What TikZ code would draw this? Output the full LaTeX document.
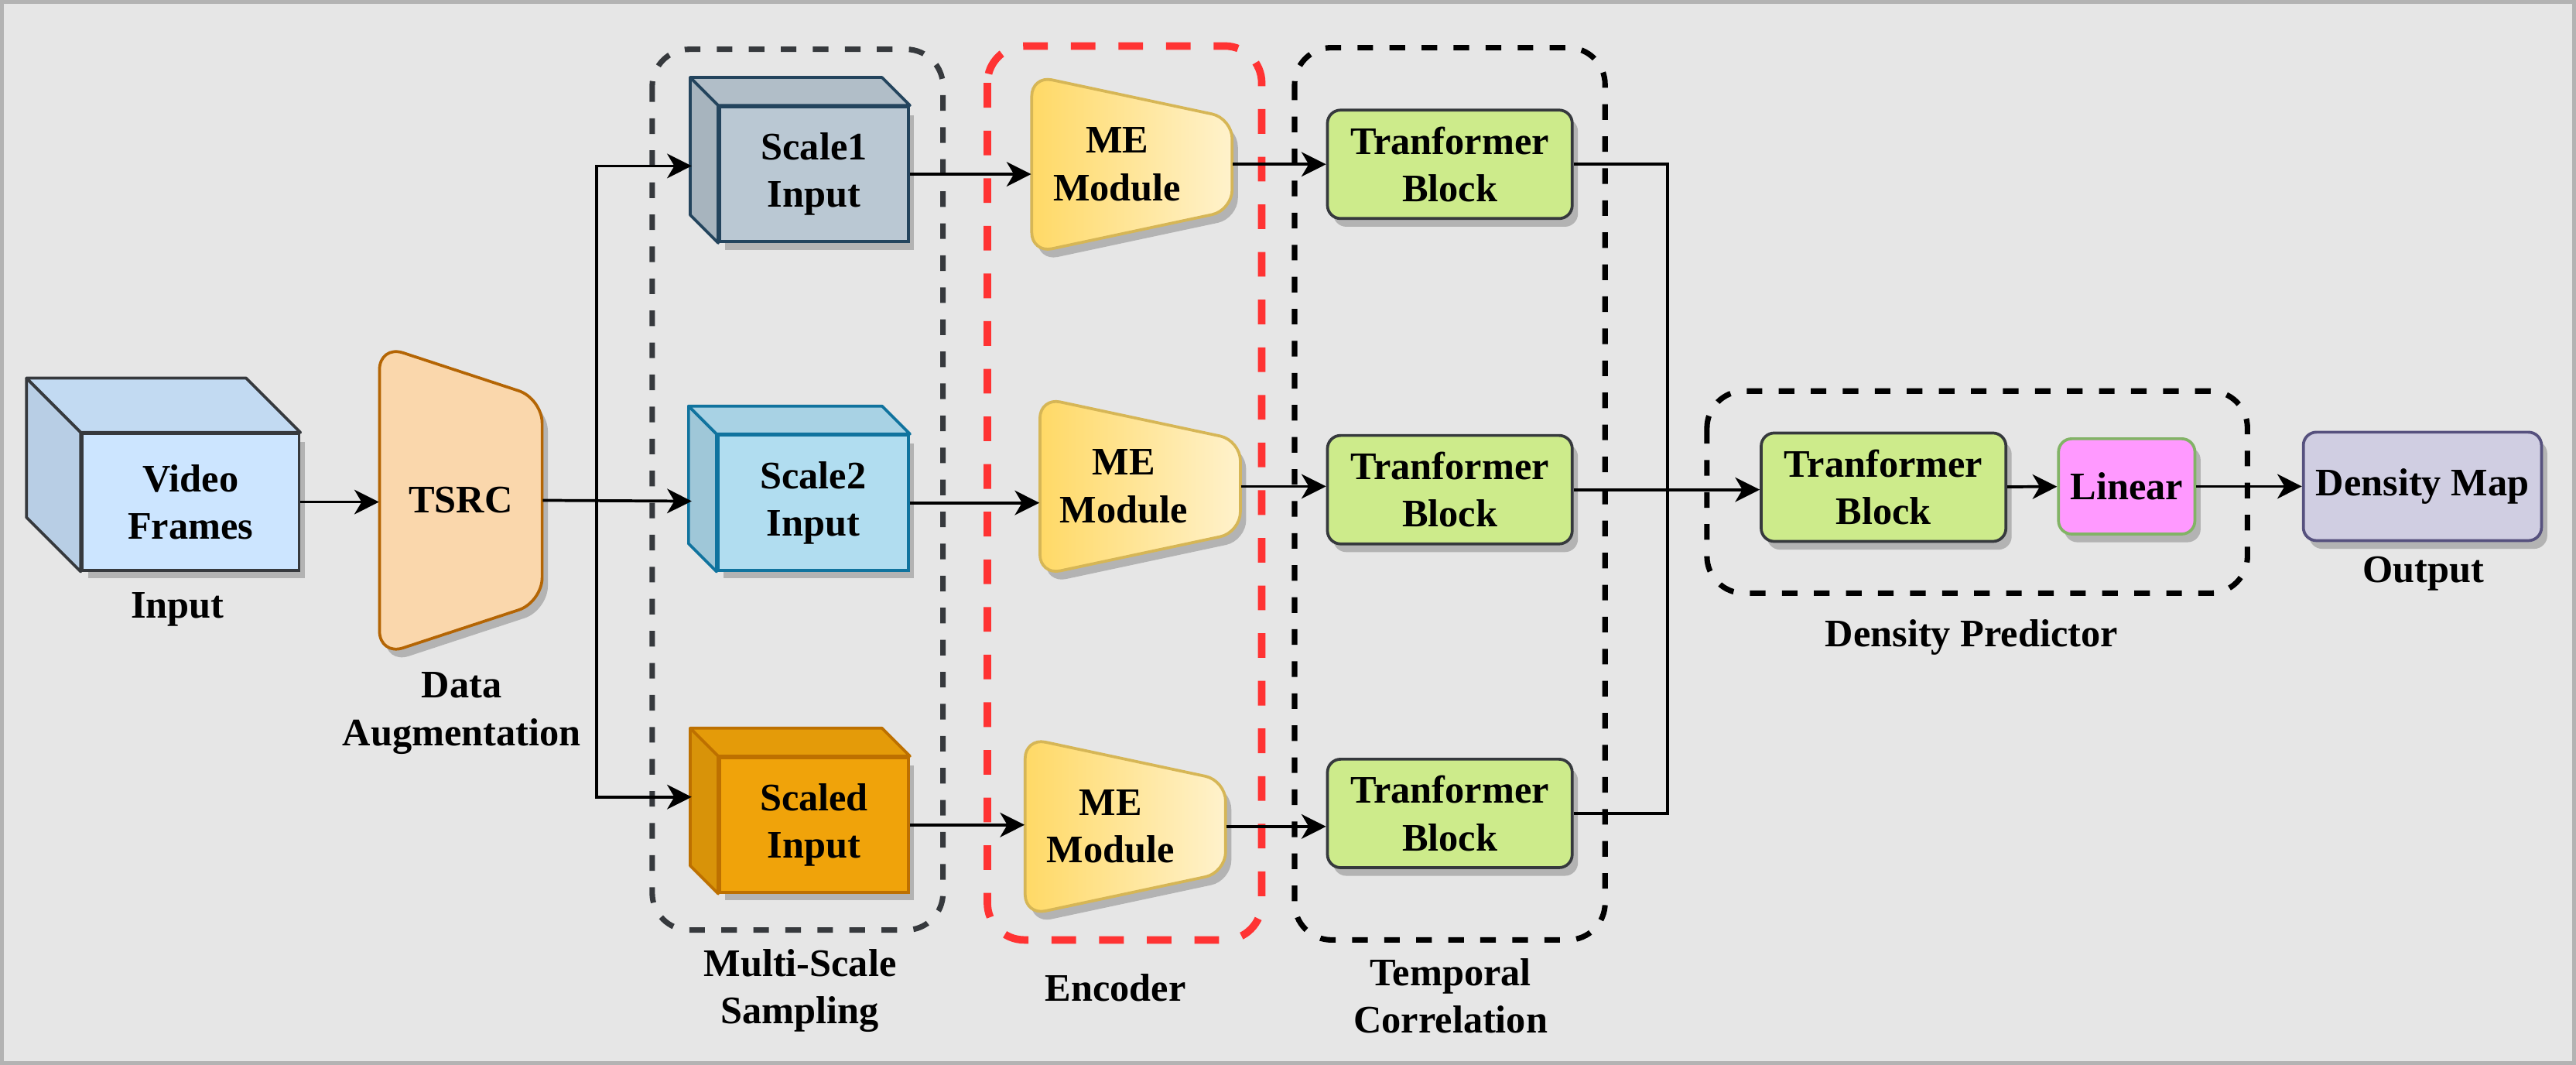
\documentclass[tikz,border=0pt]{standalone}
\usepackage{fontspec}
\setmainfont{Liberation Serif}
\usetikzlibrary{arrows.meta,shadows}

\definecolor{bgc}{HTML}{E6E6E6}
\definecolor{framec}{HTML}{B3B3B3}
\definecolor{shadowc}{HTML}{B3B3B3}
\definecolor{vidc}{HTML}{CCE5FF}
\definecolor{vidline}{HTML}{36393D}
\definecolor{sonec}{HTML}{BAC8D3}
\definecolor{soneline}{HTML}{23445D}
\definecolor{stwoc}{HTML}{B1DDF0}
\definecolor{stwoline}{HTML}{10739E}
\definecolor{sthreec}{HTML}{F0A30A}
\definecolor{sthreeline}{HTML}{BD7000}
\definecolor{tsrcc}{HTML}{FAD7AC}
\definecolor{tsrcline}{HTML}{B46504}
\definecolor{meleft}{HTML}{FFD966}
\definecolor{meright}{HTML}{FFF2CC}
\definecolor{meline}{HTML}{D6B656}
\definecolor{tbc}{HTML}{CDEB8B}
\definecolor{linc}{HTML}{FF99FF}
\definecolor{linline}{HTML}{82B366}
\definecolor{dmc}{HTML}{D0CEE2}
\definecolor{dmline}{HTML}{56517E}
\definecolor{encc}{HTML}{FF3333}

% side faces of a cube, drawn round its front node: name, depth, fill, line
\newcommand{\cubefaces}[4]{%
  \filldraw[fill=#3!90!black, draw=#4, line width=1pt, line join=round] (#1.north west) -- ++(-#2,-#2) -- ([shift={(-#2,-#2)}]#1.south west) -- (#1.south west) -- cycle;
  \filldraw[fill=#3!95!black, draw=#4, line width=1pt, line join=round] (#1.north west) -- ++(-#2,-#2) -- ([shift={(-#2,-#2)}]#1.north east) -- (#1.north east) -- cycle;
}

% trapezoid with shadow: centre, width, left height, right height, corner, style
\newcommand{\trapshape}[6]{%
  \fill[shadowc, rounded corners=#5] (#1) ++(3.5-#2/2,5-#3/2) -- ++(#2,{(#3-#4)/2}) -- ++(0,#4) -- ++(-#2,{(#3-#4)/2}) -- cycle;
  \path[#6, rounded corners=#5] (#1) ++(-#2/2,-#3/2) -- ++(#2,{(#3-#4)/2}) -- ++(0,#4) -- ++(-#2,{(#3-#4)/2}) -- cycle;
}

\begin{document}
\begin{tikzpicture}[x=0.02cm, y=-0.02cm,
  lbl/.style={font=\fontsize{13.5}{16.5}\selectfont\bfseries, align=center},
  shade/.style={drop shadow={shadow xshift=0.07cm, shadow yshift=-0.1cm, fill=shadowc, opacity=1}},
  front/.style={lbl, shade, draw, line width=1pt, inner sep=0pt},
  block/.style={lbl, shade, draw=vidline, line width=1pt, rounded corners=0.16cm, fill=tbc, minimum width=2.98cm, minimum height=1.32cm, inner sep=0pt},
  group/.style={line width=1.9pt, dash pattern=on 0.19cm off 0.2cm, rounded corners=0.45cm},
  arr/.style={-{Stealth[length=8.5pt, width=8.5pt, inset=2.5pt]}, line width=1pt},
  wire/.style={line width=1pt}]

    \useasboundingbox (0,0) rectangle (1568,648);
    \fill[bgc] (0,0) rectangle (1568,648);
    \draw[framec, line width=0.05cm] (1,1) rectangle (1567,647);

    % dashed groups
    \draw[group, draw=vidline] (397,30) rectangle (574,566);
    \draw[group, draw=encc, line width=2.6pt, dash pattern=on 0.3cm off 0.28cm] (601,28) rectangle (768,572);
    \draw[group] (788,29) rectangle (977,572);
    \draw[group] (1039,238) rectangle (1368,361);

    % input and augmentation
    \node[front, fill=vidc, draw=vidline, minimum width=2.64cm, minimum height=1.66cm] (vf) at (116,305.5) {Video\\Frames};
    \cubefaces{vf}{33}{vidc}{vidline}
    \trapshape{280.5,304.5}{99}{189}{124}{0.3cm}{fill=tsrcc, draw=tsrcline, line width=1pt}
    \node[lbl, minimum width=1.98cm, minimum height=3.78cm] (tsrc) at (280.5,304.5) {TSRC};

    % scales
    \node[front, fill=sonec, draw=soneline, minimum width=2.3cm, minimum height=1.64cm] (s1) at (495.5,106) {Scale1\\Input};
    \cubefaces{s1}{17}{sonec}{soneline}
    \node[front, fill=stwoc, draw=stwoline, minimum width=2.32cm, minimum height=1.64cm] (s2) at (495,306) {Scale2\\Input};
    \cubefaces{s2}{17}{stwoc}{stwoline}
    \node[front, fill=sthreec, draw=sthreeline, minimum width=2.3cm, minimum height=1.64cm] (s3) at (495.5,502) {Scaled\\Input};
    \cubefaces{s3}{17}{sthreec}{sthreeline}

    % encoder
    \trapshape{689,100}{122}{108}{56}{0.25cm}{left color=meleft, right color=meright, draw=meline, line width=1pt}
    \node[minimum width=2.44cm, minimum height=2.16cm, label={[lbl, xshift=-0.18cm]center:ME\\Module}] (me1) at (689,100) {};
    \trapshape{694,296}{122}{108}{56}{0.25cm}{left color=meleft, right color=meright, draw=meline, line width=1pt}
    \node[minimum width=2.44cm, minimum height=2.16cm, label={[lbl, xshift=-0.2cm]center:ME\\Module}] (me2) at (694,296) {};
    \trapshape{685,503}{122}{108}{56}{0.25cm}{left color=meleft, right color=meright, draw=meline, line width=1pt}
    \node[minimum width=2.44cm, minimum height=2.16cm, label={[lbl, xshift=-0.18cm]center:ME\\Module}] (me3) at (685,503) {};

    % transformers and head
    \node[block] (tb1) at (882.5,100) {Tranformer\\Block};
    \node[block] (tb2) at (882.5,298) {Tranformer\\Block};
    \node[block] (tb3) at (882.5,495) {Tranformer\\Block};
    \node[block] (tb4) at (1146.5,296.5) {Tranformer\\Block};
    \node[block, fill=linc, draw=linline, minimum width=1.66cm, minimum height=1.16cm] (lin) at (1294.5,296) {Linear};
    \node[block, fill=dmc, draw=dmline, minimum width=2.9cm] (dmap) at (1474.5,296) {Density Map};

    % captions
    \node[lbl] (inlbl) at (108,371) {Input};
    \node[lbl] (auglbl) at (281,434) {Data\\Augmentation};
    \node[lbl] (msslbl) at (487,603) {Multi-Scale\\Sampling};
    \node[lbl] (enclbl) at (679,601) {Encoder};
    \node[lbl] (tclbl) at (883,606) {Temporal\\Correlation};
    \node[lbl] (dplbl) at (1200,388) {Density Predictor};
    \node[lbl] (outlbl) at (1475,349) {Output};

    \coordinate (fork) at (363,305);
    \coordinate (s1in) at (421,101);
    \coordinate (s2in) at (421,305);
    \coordinate (s3in) at (421,485);
    \coordinate (merge) at (1015,298);

    \draw[arr] (vf.east) -- (vf.east -| tsrc.west);
    \draw[arr] (tsrc.east) -- (s2in);
    \draw[arr] (fork) |- (s1in);
    \draw[arr] (fork) |- (s3in);
    \draw[arr] (s1.east) -- (s1.east -| me1.west);
    \draw[arr] (s2.east) -- (s2.east -| me2.west);
    \draw[arr] (s3.east) -- (s3.east -| me3.west);
    \draw[arr] (me1.east) -- (me1.east -| tb1.west);
    \draw[arr] (me2.east) -- (me2.east -| tb2.west);
    \draw[arr] (me3.east) -- (me3.east -| tb3.west);
    \draw[wire] (tb1.east) -| (merge);
    \draw[wire] (tb3.east) -| (merge);
    \draw[arr] (tb2.east) -- (tb2.east -| tb4.west);
    \draw[arr] (tb4) -- (lin);
    \draw[arr] (lin) -- (dmap);
\end{tikzpicture}
\end{document}
